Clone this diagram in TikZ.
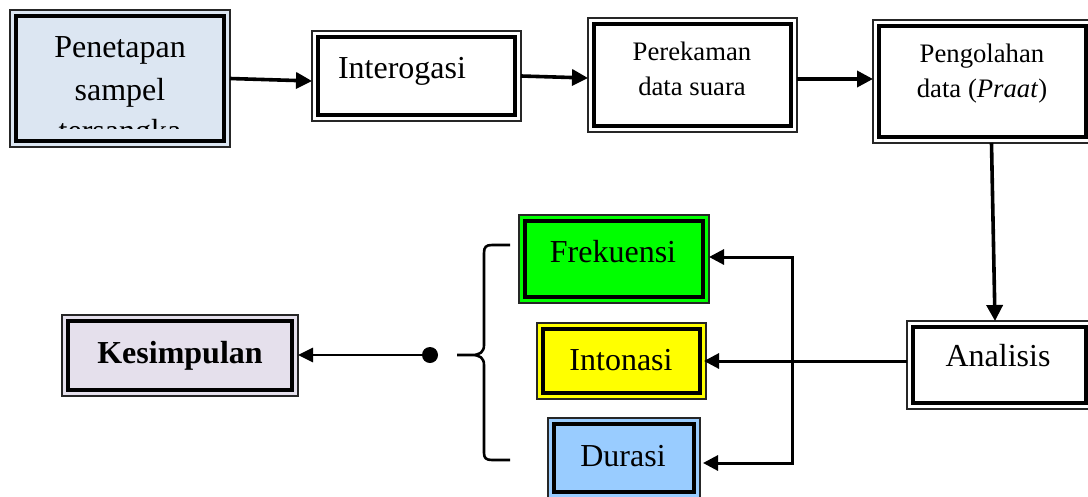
\documentclass[tikz,border=0pt]{standalone}
\usepackage{fontspec}
\setmainfont{Liberation Serif}
\usetikzlibrary{arrows.meta,fit}

\definecolor{penfill}{HTML}{DCE6F2}
\definecolor{kesfill}{HTML}{E5E0EC}
\definecolor{frekfill}{HTML}{00FF00}
\definecolor{intfill}{HTML}{FFFF00}
\definecolor{durfill}{HTML}{99CCFF}

\newcommand\txtlarge{\fontsize{32}{40}\selectfont}
\newcommand\txtsmall{\fontsize{26.7}{35}\selectfont}

\tikzset{
  dbox/.style={draw=black!85, line width=1.5pt, inner sep=0pt, outer sep=0pt,
    path picture={\draw[black, line width=3.4pt]
      ([xshift=6pt,yshift=-6pt]path picture bounding box.north west) rectangle
      ([xshift=-6pt,yshift=6pt]path picture bounding box.south east);}},
  lbl/.style={anchor=base, inner sep=0pt, font=\txtlarge},
  slbl/.style={anchor=base, inner sep=0pt, font=\txtsmall},
  flow/.style={line width=3.6pt, -{Triangle[length=16pt,width=16pt]}},
  link/.style={line width=3pt, -{Triangle[length=15pt,width=15pt]}},
  thinlink/.style={line width=2.8pt, -{Triangle[length=15pt,width=14pt]}},
  brace/.style={line width=2.6pt, line join=round}
}

\begin{document}
\begin{tikzpicture}[x=1pt,y=-1pt]
\useasboundingbox (0,0) rectangle (1088,496);
\clip (0,0) rectangle (1088,496);

% process boxes
\node[dbox, fill=penfill, fit={(10,10) (230,147)}] (pen) {};
\node[dbox, fill=white, fit={(312,31) (521,121)}] (int) {};
\node[dbox, fill=white, fit={(588,18) (797,132)}] (rek) {};
\node[dbox, fill=white, fit={(873,20) (1092,143)}] (olah) {};
\node[dbox, fill=white, fit={(907,321) (1092,409)}] (ana) {};
\node[dbox, fill=frekfill, fit={(519,215) (709,303)}] (frek) {};
\node[dbox, fill=intfill, fit={(537,323) (706,399)}] (inton) {};
\node[dbox, fill=durfill, fit={(548,418) (700,498)}] (dur) {};
\node[dbox, fill=kesfill, fit={(62,315) (298,396)}] (kes) {};

% box texts
\begin{scope}
  \clip (16,16) rectangle (224,128.5);
  \node[lbl] (penA) at (120,57) {Penetapan};
  \node[lbl] (penB) at (120,100) {sampel};
  \node[lbl] (penC) at (120,141) {tersangka};
\end{scope}
\node[lbl] (intT) at (402,78) {Interogasi};
\node[slbl] (rekA) at (692,60.7) {Perekaman};
\node[slbl] (rekB) at (692,95.7) {data suara};
\node[slbl] (olahA) at (982,62.7) {Pengolahan};
\node[slbl] (olahB) at (982,97.3) {data (\textit{Praat})};
\node[lbl] (anaT) at (998,366) {Analisis};
\node[lbl] (frekT) at (613,262) {Frekuensi};
\node[lbl] (intonT) at (621,370) {Intonasi};
\node[lbl] (durT) at (623,466) {Durasi};
\node[lbl] (kesT) at (180,363) {\textbf{Kesimpulan}};

% main flow
\draw[flow] (pen.east) -- ([yshift=-5pt]int.west);
\draw[flow] (int.east) -- ([yshift=-3pt]rek.west);
\draw[flow] ([yshift=-4pt]rek.east) -- ([yshift=-4pt]rek.east -| olah.west);
\draw[flow] ([xshift=9pt]olah.south) -- ([xshift=-4.5pt]ana.north);

% from analysis to the three measures
\coordinate (busTop) at (792,257);
\coordinate (busBot) at (792,463);
\draw[link, shorten >=-2pt] (ana.west |- inton.east) -- (inton.east);
\draw[line width=3pt, {Triangle[length=15pt,width=15pt]}-{Triangle[length=15pt,width=15pt]}, line join=miter]
  (frek.east |- busTop) -- (busTop) -- (busBot) -- ([xshift=3pt]dur.east |- busBot);

% brace grouping the measures
\draw[brace] (510,245) -- (492,245) .. controls (486,245) and (484,247) .. (484,253) -- (484,345)
  .. controls (484,352) and (480,355) .. (472,355) -- (457,355)
  (472,355) .. controls (480,355) and (484,358) .. (484,365) -- (484,453)
  .. controls (484,458) and (486,460) .. (492,460) -- (510,460);

% conclusion
\node[circle, fill=black, inner sep=0pt, minimum size=16pt] (dot) at (430,355) {};
\draw[thinlink] (dot) -- (kes.east |- dot);
\end{tikzpicture}
\end{document}
